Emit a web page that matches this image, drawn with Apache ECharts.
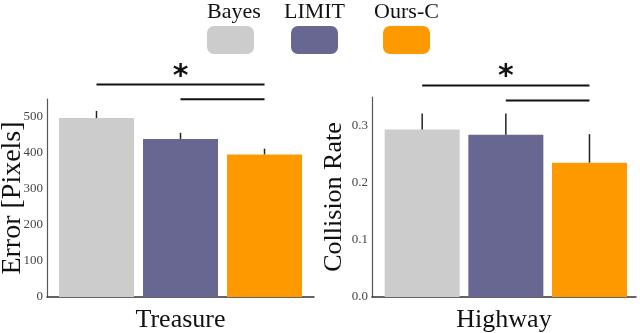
<!DOCTYPE html>
<html>
<head>
<meta charset="utf-8">
<script src="https://cdn.jsdelivr.net/npm/echarts@6/dist/echarts.min.js"></script>
<style>
html, body { margin: 0; padding: 0; background: #fff; }
#chart { width: 640px; height: 333px; }
</style>
</head>
<body>
<div id="chart"></div>
<script>
var methods = ['Bayes', 'LIMIT', 'Ours-C'];
var colors = ['#cccccc', '#676791', '#ff9900'];

// Treasure: error in pixels
var treasureMean = [497, 439, 396];
var treasureErr = [20, 17, 16];
var treasureMax = 550, treasureStep = 100;

// Highway: collision rate
var highwayMean = [0.293, 0.284, 0.235];
var highwayErr = [0.028, 0.037, 0.050];
var highwayMax = 0.35, highwayStep = 0.1;

// significance brackets: [from bar, to bar, height]; star: [bar, height]
var treasureSig = [[0, 2, 590], [1, 2, 549]];
var treasureStar = [1, 631];
var highwaySig = [[0, 2, 0.370], [1, 2, 0.344]];
var highwayStar = [1, 0.397];

var serif = 'Liberation Serif';
var BAR_W = 75;
var myChart = echarts.init(document.getElementById('chart'));

// one series per method: bar + one-sided error bar
function methodSeries(i, mean, err, xi) {
    return {
        name: methods[i],
        type: 'custom',
        xAxisIndex: xi,
        yAxisIndex: xi,
        itemStyle: { color: colors[i] },
        dimensions: ['x', 'mean', 'top'],
        encode: { x: 0, y: [1, 2] },
        data: [[i, mean[i], mean[i] + err[i]]],
        renderItem: function (params, api) {
            var base = api.coord([api.value(0), 0]);
            var top = api.coord([api.value(0), api.value(1)]);
            var hi = api.coord([api.value(0), api.value(2)]);
            return {
                type: 'group',
                children: [{
                    type: 'rect',
                    shape: { x: base[0] - BAR_W / 2, y: top[1], width: BAR_W, height: base[1] - top[1] },
                    style: { fill: colors[i] }
                }, {
                    type: 'line',
                    shape: { x1: top[0], y1: top[1], x2: hi[0], y2: hi[1] },
                    style: { stroke: '#222', lineWidth: 1.5 }
                }]
            };
        }
    };
}

function sigSeries(lines, xi) {
    return {
        type: 'custom',
        xAxisIndex: xi,
        yAxisIndex: xi,
        silent: true,
        dimensions: ['from', 'to', 'h'],
        encode: { x: [0, 1], y: 2 },
        data: lines,
        renderItem: function (params, api) {
            var a = api.coord([api.value(0), api.value(2)]);
            var b = api.coord([api.value(1), api.value(2)]);
            return {
                type: 'line',
                shape: { x1: a[0], y1: a[1], x2: b[0], y2: b[1] },
                style: { stroke: '#111', lineWidth: 2 }
            };
        }
    };
}

function starSeries(star, xi) {
    return {
        type: 'custom',
        xAxisIndex: xi,
        yAxisIndex: xi,
        silent: true,
        data: [star],
        renderItem: function (params, api) {
            var p = api.coord([api.value(0), api.value(1)]);
            return {
                type: 'text',
                x: p[0],
                y: p[1] + 7,
                style: {
                    text: '*',
                    font: 'bold 30px "DejaVu Sans"',
                    fill: '#111',
                    align: 'center',
                    verticalAlign: 'middle',
                    textAlign: 'center',
                    textVerticalAlign: 'middle'
                }
            };
        }
    };
}

function xAxisFor(name, gi, min, max) {
    return {
        type: 'value',
        gridIndex: gi,
        min: min,
        max: max,
        name: name,
        nameLocation: 'middle',
        nameGap: 10,
        nameMoveOverlap: false,
        nameTextStyle: { fontFamily: serif, fontSize: 26, color: '#111' },
        axisLine: { onZero: false, lineStyle: { color: '#333', width: 1.5 } },
        axisTick: { show: false },
        axisLabel: { show: false },
        splitLine: { show: false }
    };
}

function yAxisFor(name, gi, max, step, gap, digits, nameSize) {
    return {
        type: 'value',
        gridIndex: gi,
        min: 0,
        max: max,
        interval: step,
        name: name,
        nameLocation: 'middle',
        nameGap: gap,
        nameMoveOverlap: false,
        nameTextStyle: { fontFamily: serif, fontSize: nameSize, color: '#111' },
        axisLine: { show: true, onZero: false, lineStyle: { color: '#555', width: 1.2 } },
        axisTick: { show: false },
        splitLine: { show: false },
        axisLabel: {
            showMaxLabel: false,
            margin: 4,
            fontFamily: serif,
            fontSize: 13,
            color: '#444',
            formatter: function (v) { return v.toFixed(digits); }
        }
    };
}

var legendLeft = [207, 291, 383];
var legendTextX = [234, 314.5, 406.5];

var option = {
    animation: false,
    grid: [
        { left: 47, right: 326, top: 99, bottom: 36, outerBoundsMode: 'none', containLabel: false },
        { left: 372, right: 4, top: 97, bottom: 36, outerBoundsMode: 'none', containLabel: false }
    ],
    legend: methods.map(function (m, i) {
        return {
            data: [m],
            left: legendLeft[i],
            top: 26,
            padding: 0,
            itemWidth: 47,
            itemHeight: 28,
            icon: 'roundRect',
            selectedMode: false,
            formatter: function () { return ''; }
        };
    }),
    graphic: methods.map(function (m, i) {
        return {
            type: 'text',
            x: legendTextX[i],
            y: 12,
            style: {
                text: m,
                font: '22px "Liberation Serif"',
                fill: '#111',
                align: 'center',
                verticalAlign: 'middle',
                textAlign: 'center',
                textVerticalAlign: 'middle'
            }
        };
    }),
    xAxis: [
        xAxisFor('Treasure', 0, -0.589, 2.589),
        xAxisFor('Highway', 1, -0.6, 2.556)
    ],
    yAxis: [
        yAxisFor('Error [Pixels]', 0, treasureMax, treasureStep, 20, 0, 28),
        yAxisFor('Collision Rate', 1, highwayMax, highwayStep, 25, 1, 26)
    ],
    series: [].concat(
        methods.map(function (m, i) { return methodSeries(i, treasureMean, treasureErr, 0); }),
        methods.map(function (m, i) { return methodSeries(i, highwayMean, highwayErr, 1); }),
        [sigSeries(treasureSig, 0),
         sigSeries(highwaySig, 1),
         starSeries(treasureStar, 0),
         starSeries(highwayStar, 1)]
    )
};

myChart.setOption(option);
</script>
</body>
</html>
